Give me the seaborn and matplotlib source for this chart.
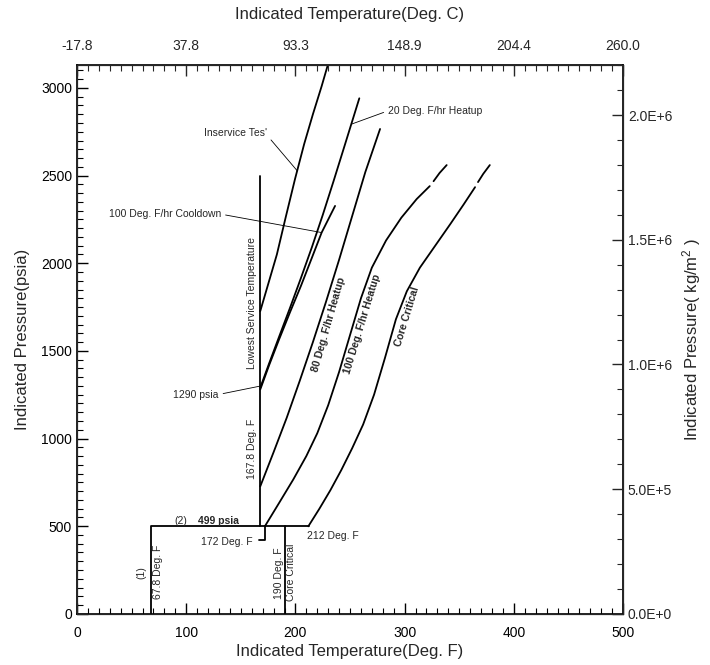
import numpy as np
import pandas as pd
import matplotlib
matplotlib.use("Agg")
import matplotlib.pyplot as plt
import seaborn as sns
from matplotlib.ticker import MultipleLocator

# Limit curves: temperature (Deg. F) and pressure (psia)
inservice_t = [167.8, 175, 183, 191, 199.6, 208, 216, 224, 231]
inservice_p = [1727, 1880, 2050, 2260, 2480, 2680, 2850, 3010, 3160]

heatup20_t = [167.8, 176, 185, 195, 205, 215, 225, 235, 245, 258.5]
heatup20_p = [1290, 1430, 1580, 1745, 1915, 2090, 2275, 2470, 2670, 2941]

cooldown100_t = [167.8, 176, 185, 195, 205, 215, 224, 236.3]
cooldown100_p = [1280, 1420, 1565, 1720, 1870, 2030, 2175, 2327]

heatup80_t = [167.8, 180, 192, 204, 216, 228, 240, 252, 264, 277.5]
heatup80_p = [727, 922, 1118, 1330, 1550, 1780, 2020, 2270, 2520, 2766]

heatup100_t = [172, 185, 198, 210, 220, 230, 240, 250, 260, 270, 283, 297, 311, 323]
heatup100_p = [499, 632, 766, 900, 1030, 1190, 1380, 1590, 1800, 1975, 2130, 2260, 2366, 2440]
heatup100_end_t = [326.5, 332, 338.5]
heatup100_end_p = [2468, 2515, 2560]

critical_t = [211.8, 222, 232, 242, 252, 262, 272, 282, 292, 302, 314, 328, 342, 354, 364.5]
critical_p = [499, 600, 705, 820, 945, 1080, 1250, 1460, 1680, 1840, 1975, 2100, 2225, 2335, 2434]
critical_end_t = [367.2, 372, 378]
critical_end_p = [2463, 2510, 2560]

# Straight limit lines
lowest_service_t = [167.8, 167.8]
lowest_service_p = [499, 2500]
low_box_t = [67.8, 67.8, 212]
low_box_p = [0, 499, 499]
core_low_t = [190, 190]
core_low_p = [0, 499]
bracket_t = [172, 172, 167]
bracket_p = [499, 420, 420]

# Axis ticks
f_ticks = [0, 100, 200, 300, 400, 500]
c_labels = ['-17.8', '37.8', '93.3', '148.9', '204.4', '260.0']
kg_ticks = [0, 5e5, 1e6, 1.5e6, 2e6]
kg_labels = ['0.0E+0', '5.0E+5', '1.0E+6', '1.5E+6', '2.0E+6']
psi_to_kgm2 = 703.07
p_max = 3130

segments = [
    (inservice_t, inservice_p), (heatup20_t, heatup20_p),
    (cooldown100_t, cooldown100_p), (heatup80_t, heatup80_p),
    (heatup100_t, heatup100_p), (heatup100_end_t, heatup100_end_p),
    (critical_t, critical_p), (critical_end_t, critical_end_p),
    (lowest_service_t, lowest_service_p), (low_box_t, low_box_p),
    (core_low_t, core_low_p), (bracket_t, bracket_p),
]
frames = []
for i, (t, p) in enumerate(segments):
    frames.append(pd.DataFrame({'T': t, 'P': p, 'seg': i}))
df = pd.concat(frames, ignore_index=True)

sns.set_style("white")
plt.rcParams['font.family'] = ['Liberation Sans', 'DejaVu Sans']
plt.rcParams['mathtext.default'] = 'regular'

fig, ax = plt.subplots(figsize=(7.1, 6.65), dpi=100)
fig.subplots_adjust(left=0.1085, right=0.8775, bottom=0.077, top=0.902)

sns.lineplot(data=df, x='T', y='P', units='seg', estimator=None, sort=False,
             color='black', linewidth=1.3, ax=ax)

ax.set_xlim(0, 500)
ax.set_ylim(0, p_max)
ax.xaxis.set_major_locator(MultipleLocator(100))
ax.xaxis.set_minor_locator(MultipleLocator(10))
ax.yaxis.set_major_locator(MultipleLocator(500))
ax.yaxis.set_minor_locator(MultipleLocator(50))
ax.tick_params(which='both', direction='in', colors='black', labelsize=10)
ax.tick_params(which='major', length=8, width=1)
ax.tick_params(which='minor', length=4, width=0.8)
ax.tick_params(axis='x', which='major', pad=9)
ax.set_xlabel('Indicated Temperature(Deg. F)', fontsize=12, labelpad=3)
ax.set_ylabel('Indicated Pressure(psia)', fontsize=12, labelpad=8)
for s in ax.spines.values():
    s.set_linewidth(1.2)
    s.set_color('black')

axt = ax.twiny()
axt.set_xlim(0, 500)
axt.set_xticks(f_ticks)
axt.set_xticklabels(c_labels)
axt.xaxis.set_minor_locator(MultipleLocator(10))
axt.tick_params(which='both', direction='in', labelsize=10)
axt.tick_params(which='major', length=8, width=1, pad=9)
axt.tick_params(which='minor', length=4, width=0.8)
axt.set_xlabel('Indicated Temperature(Deg. C)', fontsize=12, labelpad=14)

axr = ax.twinx()
axr.set_ylim(0, p_max * psi_to_kgm2)
axr.set_yticks(kg_ticks)
axr.set_yticklabels(kg_labels)
axr.yaxis.set_minor_locator(MultipleLocator(1e5))
axr.tick_params(which='both', direction='in', labelsize=10)
axr.tick_params(which='major', length=8, width=1)
axr.tick_params(which='minor', length=4, width=0.8)
axr.set_ylabel('Indicated Pressure( kg/m$^2$ )', fontsize=12, labelpad=6)

lead = dict(arrowstyle='-', lw=0.6, color='black', shrinkA=1, shrinkB=0)
fs = 7.5
ax.annotate("Inservice Tes'", xy=(201.7, 2527), xytext=(116, 2743), fontsize=fs,
            ha='left', va='center', arrowprops=dict(lead, relpos=(1, 0.3)))
ax.annotate('20 Deg. F/hr Heatup', xy=(251.5, 2794), xytext=(285, 2870), fontsize=fs,
            ha='left', va='center', arrowprops=dict(lead, relpos=(0, 0.5)))
ax.annotate('100 Deg. F/hr Cooldown', xy=(224, 2175), xytext=(29, 2280), fontsize=fs,
            ha='left', va='center', arrowprops=dict(lead, relpos=(1, 0.5)))
ax.annotate('1290 psia', xy=(167.6, 1299), xytext=(88, 1251), fontsize=fs,
            ha='left', va='center', arrowprops=dict(lead, relpos=(1, 0.5)))

ax.text(160, 1775, 'Lowest Service Temperature', rotation=90, fontsize=fs,
        ha='center', va='center')
ax.text(160, 940, '167.8 Deg. F', rotation=90, fontsize=fs, ha='center', va='center')
ax.text(230.8, 1651, '80 Deg. F/hr Heatup', rotation=74, fontsize=fs, fontweight='bold',
        ha='center', va='center', rotation_mode='anchor')
ax.text(261.4, 1651, '100 Deg. F/hr Heatup', rotation=73, fontsize=fs, fontweight='bold',
        ha='center', va='center', rotation_mode='anchor')
ax.text(301.9, 1694, 'Core Critical', rotation=73, fontsize=fs, fontweight='bold',
        ha='center', va='center', rotation_mode='anchor')
ax.text(95, 531, '(2)', fontsize=fs, ha='center', va='center')
ax.text(111, 531, '499 psia', fontsize=fs, fontweight='bold', ha='left', va='center')
ax.text(161, 410, '172 Deg. F', fontsize=fs, ha='right', va='center')
ax.text(211, 446, '212 Deg. F', fontsize=fs, ha='left', va='center')
ax.text(59, 234, '(1)', rotation=90, fontsize=fs, ha='center', va='center')
ax.text(74, 240, '67.8 Deg. F', rotation=90, fontsize=fs, ha='center', va='center')
ax.text(184.5, 234, '190 Deg. F', rotation=90, fontsize=fs, ha='center', va='center')
ax.text(196, 234, 'Core Critical', rotation=90, fontsize=fs, ha='center', va='center')

fig.savefig('out.png', dpi=100)
